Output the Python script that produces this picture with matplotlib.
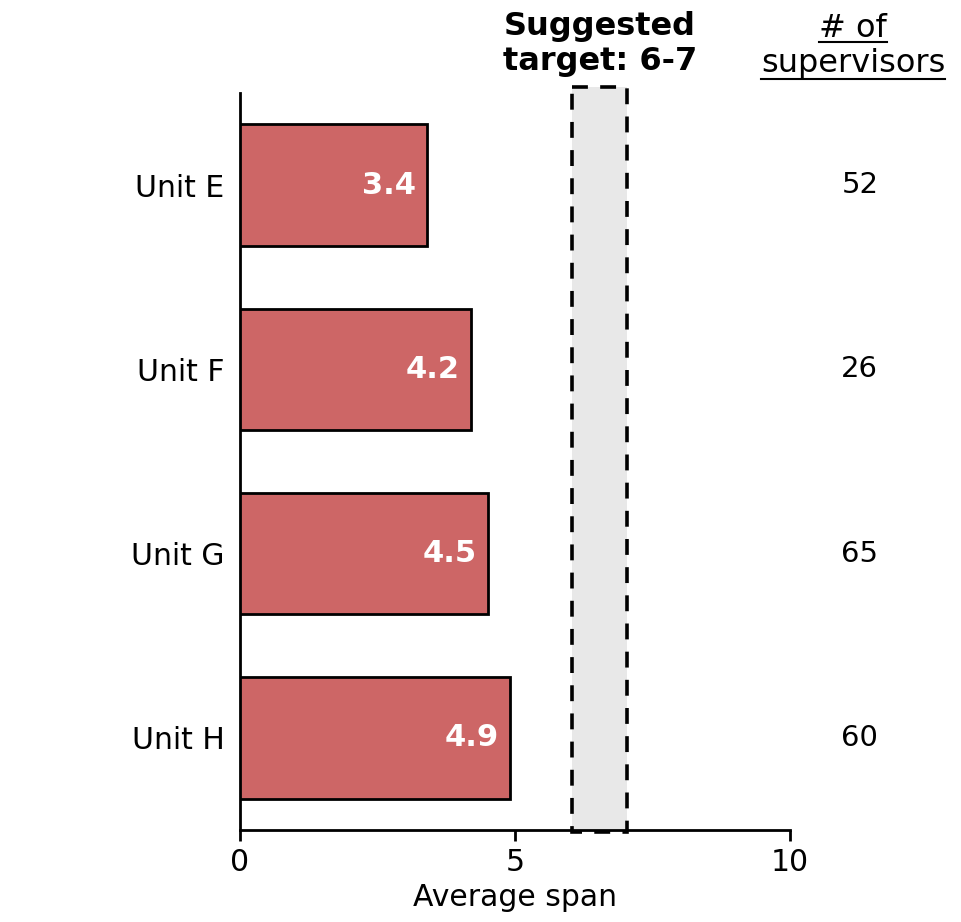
import matplotlib
matplotlib.use('Agg')
import matplotlib.pyplot as plt
from matplotlib.patches import Rectangle
from matplotlib.lines import Line2D

units = ['Unit E', 'Unit F', 'Unit G', 'Unit H']
avg_span = [3.4, 4.2, 4.5, 4.9]
supervisors = [52, 26, 65, 60]
target_low, target_high = 6, 7
xticks = [0, 5, 10]

plt.rcParams['font.family'] = 'DejaVu Sans'
W, H = 961, 922

fig = plt.figure(figsize=(W / 100, H / 100), dpi=100)
ax = fig.add_axes([240 / W, 92 / H, 550 / W, 737 / H])

ypos = list(range(len(units)))
ax.barh(ypos, avg_span, height=0.66, color='#cd6666', edgecolor='black', linewidth=2, zorder=3)

# value labels inside the bars
for y, v in zip(ypos, avg_span):
    ax.text(v - 0.2, y, f'{v:.1f}', ha='right', va='center', color='white',
            fontsize=22, fontweight='bold', zorder=4)

# supervisors column
for y, n in zip(ypos, supervisors):
    ax.text(11.27, y, str(n), ha='center', va='center', fontsize=21, clip_on=False)

# target band
band = Rectangle((target_low + 0.04, -0.535), target_high - target_low, 4.045,
                 facecolor='#e8e8e8', edgecolor='black', linestyle=(0, (4.4, 3.4)),
                 linewidth=2.6, clip_on=False, zorder=2)
ax.add_patch(band)

ax.set_xlim(0, 10)
ax.set_ylim(3.5, -0.5)
ax.set_xticks(xticks)
ax.set_xticklabels([str(t) for t in xticks], fontsize=21.5)
ax.set_yticks(ypos)
ax.set_yticklabels(units, fontsize=21.5)
ax.tick_params(axis='y', length=0, pad=11)
ax.tick_params(axis='x', length=8, width=2, pad=5)
ax.set_xlabel('Average span', fontsize=21.5, labelpad=4)

for s in ['top', 'right']:
    ax.spines[s].set_visible(False)
for s in ['left', 'bottom']:
    ax.spines[s].set_linewidth(2)

# headers, one text per line (baselines in pixels from the top)
fig.text(600 / W, 1 - 35 / H, 'Suggested', ha='center', va='baseline',
         fontsize=23, fontweight='bold')
fig.text(600 / W, 1 - 70 / H, 'target: 6-7', ha='center', va='baseline',
         fontsize=23, fontweight='bold')

fig.canvas.draw()
r = fig.canvas.get_renderer()
for word, base, uline in [('# of', 37, 42), ('supervisors', 72, 79)]:
    t = fig.text(853 / W, 1 - base / H, word, ha='center', va='baseline', fontsize=23)
    w = t.get_window_extent(r).width / W
    fig.add_artist(Line2D([853 / W - w / 2, 853 / W + w / 2], [1 - uline / H] * 2,
                          color='black', linewidth=1.5))

fig.savefig('out.png', dpi=100)
